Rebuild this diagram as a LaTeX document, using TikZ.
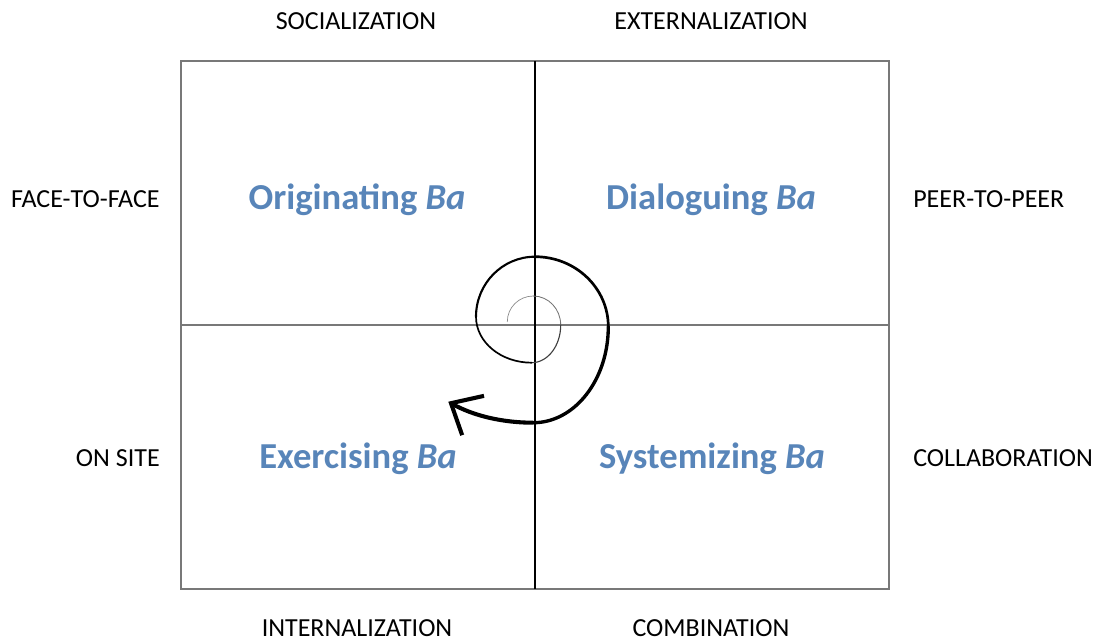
\documentclass[tikz,border=0pt]{standalone}
\usepackage{fontspec}
\setmainfont{Carlito}
\usetikzlibrary{arrows.meta}
\definecolor{bablue}{RGB}{88,133,185}
\definecolor{framegray}{RGB}{120,120,120}
\tikzset{
	axislabel/.style={font=\fontsize{18.5}{20}\selectfont, inner sep=0pt},
	baname/.style={font=\fontsize{26}{28}\selectfont\bfseries, text=bablue, inner sep=0pt},
	spiral/.style={line cap=round}
}
\begin{document}
\begin{tikzpicture}[x=0.025cm, y=-0.025cm]
	\useasboundingbox (0,0) rectangle (1100,641);

	% frame
	\draw[framegray, line width=1pt] (181,61) rectangle (889,589);
	\draw[framegray, line width=1pt] (181,325) -- (889,325);
	\draw[black, line width=0.9pt] (535,61) -- (535,589);

	% labels
	\node[axislabel] (soc) at (356,21) {SOCIALIZATION};
	\node[axislabel] (ext) at (711,21) {EXTERNALIZATION};
	\node[axislabel, anchor=east] (ftf) at (160,199) {FACE-TO-FACE};
	\node[axislabel, anchor=west] (ptp) at (913,199) {PEER-TO-PEER};
	\node[axislabel, anchor=east] (onsite) at (160,458) {ON SITE};
	\node[axislabel, anchor=west] (collab) at (913,458) {COLLABORATION};
	\node[axislabel] (intern) at (357,628) {INTERNALIZATION};
	\node[axislabel] (comb) at (711,628) {COMBINATION};

	% ba
	\node[baname] (orig) at (357,200) {Originating \textit{Ba}};
	\node[baname] (dial) at (711,200) {Dialoguing \textit{Ba}};
	\node[baname] (exer) at (358,459) {Exercising \textit{Ba}};
	\node[baname] (syst) at (712,459) {Systemizing \textit{Ba}};

	%draw spiral
	\draw[spiral, black!45, line width=0.5pt] (507.3,321.7) .. controls (507.3,307.5) and (518.9,296) .. (533.3,296);
	\draw[spiral, black!55, line width=0.6pt] (533.3,296) .. controls (548.4,296) and (560.7,309) .. (560.7,325);
	\draw[spiral, black!75, line width=0.8pt] (560.7,325) .. controls (560.7,345.8) and (547.7,362.7) .. (531.7,362.7);
	\draw[spiral, line width=1.2pt] (531.7,362.7) .. controls (500.9,362.7) and (476,342.1) .. (476,316.7);
	\draw[spiral, line width=1.5pt] (476,316.7) .. controls (476,283.6) and (502.4,256.7) .. (535,256.7);
	\draw[spiral, line width=1.9pt] (535,256.7) .. controls (575.5,256.7) and (608.3,288) .. (608.3,326.7);
	\draw[spiral, line width=2.4pt] (608.3,326.7) .. controls (608.3,379.7) and (574.7,422.7) .. (533.3,422.7);
	\draw[line width=2.9pt, -{Straight Barb[length=18pt, width=32pt]}] (533.3,422.7) .. controls (503,422.7) and (474,416) .. (448.3,401.7);

\end{tikzpicture}
\end{document}
